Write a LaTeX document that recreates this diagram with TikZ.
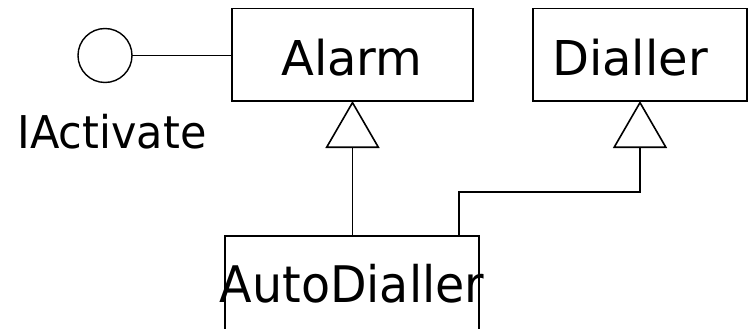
\documentclass[tikz,border=0pt]{standalone}
\usepackage{fontspec}
\setmainfont{DejaVu Sans}
\usetikzlibrary{arrows.meta}
\begin{document}
\begin{tikzpicture}[x=1pt,y=-1pt,
  classbox/.style={draw,line width=1.8pt,inner sep=0pt,outer sep=0pt},
  classname/.style={anchor=base,inner sep=0pt,font=\fontsize{48}{48}\selectfont},
  ifacename/.style={anchor=base,inner sep=0pt,font=\fontsize{43}{43}\selectfont},
  lollipop/.style={draw,circle,line width=1.4pt,minimum size=54pt,inner sep=0pt,outer sep=0pt},
  link/.style={line width=1.6pt},
  realises/.style={link,-{Triangle[open,length=47pt,width=54pt]}}]
\useasboundingbox (0,0) rectangle (752,329);
\clip (0,0) rectangle (752,329);

% classes
\node[classbox,minimum width=241pt,minimum height=92.5pt] (alarm) at (352.5,54.75) {};
\node[classbox,minimum width=214pt,minimum height=92.5pt] (dialler) at (640,54.75) {};
\node[classbox,minimum width=254pt,minimum height=94pt] (auto) at (352,283) {};

\node[classname] (alarmname) at (352,75) {Alarm};
\node[classname] (diallername) at (630,75) {Dialler};
\node[classname] (autoname) at (352,302.5) {\scalebox{0.99}[1.05]{AutoDialler}};

% provided interface
\node[lollipop] (iact) at (105,55.5) {};
\node[ifacename] (iactname) at (112,148) {\scalebox{1}[1.05]{IActivate}};
\draw[link] (iact.east) -- (iact.east -| alarm.west);

% generalisations
\draw[realises] (alarm.south |- auto.north) -- (alarm.south);
\draw[realises] ([xshift=107pt]auto.north) -- ++(0,-44) -| (dialler.south);
\end{tikzpicture}
\end{document}
